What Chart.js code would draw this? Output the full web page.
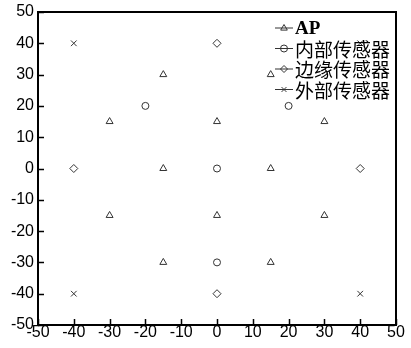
<!DOCTYPE html>
<html>
<head>
<meta charset="utf-8">
<script src="https://cdn.jsdelivr.net/npm/chart.js@4/dist/chart.umd.min.js"></script>
<style>
	html, body { margin: 0; padding: 0; background: #fff; }
	#wrap { width: 411px; height: 348px; }
</style>
</head>
<body>
<div id="wrap"><canvas id="graph" width="411" height="348"></canvas></div>
<script>
// series: x / y positions
const apX = [-30, -15, 0, 15, 30, -15, 15, -30, 0, 30, -15, 15];
const apY = [15, 30, 15, 30, 15, 0, 0, -15, -15, -15, -30, -30];
const innerX = [-20, 20, 0, 0];
const innerY = [20, 20, 0, -30];
const edgeX = [0, -40, 40, 0];
const edgeY = [40, 0, 0, -40];
const outerX = [-40, 40, -40, 40];
const outerY = [40, 40, -40, -40];
const labels = ['AP', '内部传感器', '边缘传感器', '外部传感器'];
const styles = ['triangle', 'circle', 'rectRot', 'crossRot'];
const tickMin = -50, tickMax = 50, tickStep = 10;

const markColor = '#333'

function toPoints(xs, ys) {
	return xs.map((x, i) => ({ x: x, y: ys[i] }));
}

const datasets = [[apX, apY], [innerX, innerY], [edgeX, edgeY], [outerX, outerY]].map((s, i) => ({
	label: labels[i],
	data: toPoints(s[0], s[1]),
	pointStyle: styles[i],
	pointRadius: styles[i] === 'circle' ? 3.5 : 4,
	borderColor: markColor,
	backgroundColor: 'rgba(0,0,0,0)',
	borderWidth: 1,
}));

function drawMark(ctx, style, x, y, r) {
	ctx.beginPath();
	if (style === 'triangle') {
		ctx.moveTo(x, y - r);
		ctx.lineTo(x + r * 0.95, y + r * 0.6);
		ctx.lineTo(x - r * 0.95, y + r * 0.6);
		ctx.closePath();
	} else if (style === 'circle') {
		ctx.arc(x, y, r, 0, Math.PI * 2);
	} else if (style === 'rectRot') {
		ctx.moveTo(x, y - r);
		ctx.lineTo(x + r, y);
		ctx.lineTo(x, y + r);
		ctx.lineTo(x - r, y);
		ctx.closePath();
	} else {
		const d = r * 0.7;
		ctx.moveTo(x - d, y - d); ctx.lineTo(x + d, y + d);
		ctx.moveTo(x + d, y - d); ctx.lineTo(x - d, y + d);
	}
	ctx.stroke();
}

// box, inward ticks and the legend
const framePlugin = {
	id: 'frame',
	afterDraw(chart) {
		const ctx = chart.ctx;
		const a = chart.chartArea;
		const sx = chart.scales.x, sy = chart.scales.y;
		ctx.save();
		ctx.strokeStyle = '#000';
		ctx.lineWidth = 2;
		ctx.strokeRect(a.left, a.top, a.right - a.left, a.bottom - a.top);
		ctx.lineWidth = 1.5;
		ctx.beginPath();
		sx.ticks.forEach(t => {
			const px = Math.round(sx.getPixelForValue(t.value)) + 0.5;
			ctx.moveTo(px, a.bottom);
			ctx.lineTo(px, a.bottom - 6);
		});
		sy.ticks.forEach(t => {
			const py = Math.round(sy.getPixelForValue(t.value)) + 0.5;
			ctx.moveTo(a.left, py);
			ctx.lineTo(a.left + 6, py);
		});
		ctx.stroke();

		// legend
		const lx0 = 275, lx1 = 293, tx = 295;
		const rows = [28, 48.5, 69, 89.5];
		ctx.textBaseline = 'middle';
		ctx.fillStyle = '#000';
		datasets.forEach((d, i) => {
			const y = rows[i];
			ctx.strokeStyle = markColor;
			ctx.lineWidth = 1;
			ctx.beginPath();
			ctx.moveTo(lx0, y);
			ctx.lineTo(lx1, y);
			ctx.stroke();
			drawMark(ctx, d.pointStyle, (lx0 + lx1) / 2, y, 3.5);
			ctx.font = i === 0 ? 'bold 19px "Liberation Serif"' : '19px "Noto Sans CJK SC"';
			ctx.fillText(d.label, tx, y + 1);
		});
		ctx.restore();
	}
};

const axisTicks = {
	min: tickMin,
	max: tickMax,
	grid: { display: false, drawTicks: false },
	border: { display: false },
};

new Chart(document.getElementById('graph').getContext('2d'), {
	type: 'scatter',
	data: { datasets: datasets },
	options: {
		responsive: false,
		animation: false,
		layout: { padding: { top: 10, right: 15, bottom: 0, left: 0 } },
		plugins: { legend: { display: false }, tooltip: { enabled: false } },
		scales: {
			x: Object.assign({}, axisTicks, {
				ticks: {
					stepSize: tickStep, autoSkip: false, maxRotation: 0, padding: 0,
					color: '#000', font: { family: '"Liberation Sans"', size: 16, lineHeight: 1 }
				},
				afterFit: s => { s.height = 23; }
			}),
			y: Object.assign({}, axisTicks, {
				ticks: {
					stepSize: tickStep, autoSkip: false, padding: 4,
					color: '#000', font: { family: '"Liberation Sans"', size: 16, lineHeight: 1 }
				},
				afterFit: s => { s.width = 38; }
			})
		}
	},
	plugins: [framePlugin]
});
</script>
</body>
</html>
